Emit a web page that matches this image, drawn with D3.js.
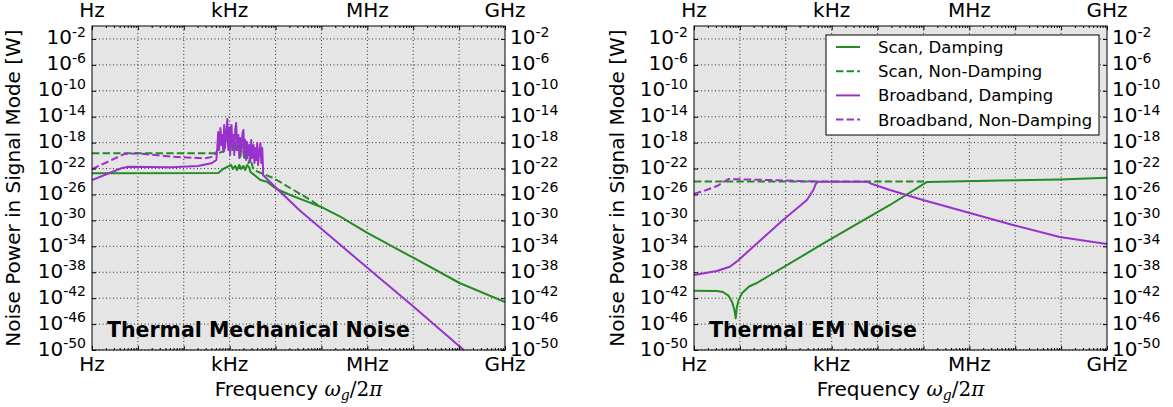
<!DOCTYPE html>
<html>
<head>
<meta charset="utf-8">
<script src="https://cdnjs.cloudflare.com/ajax/libs/d3/7.8.5/d3.min.js"></script>
<style>
body { margin: 0; background: #fff; }
text { font-family: "DejaVu Sans", sans-serif; fill: #000; }
</style>
</head>
<body>
<script>
// all points are [log10 frequency in Hz, log10 power in W]

// Thermal mechanical noise
var mechScanDamp = [[0,-22.73],[2.75,-22.69],[2.86,-22.07],[2.99,-21.6],[3.03,-21.45],[3.07,-22.07],[3.12,-21.6],[3.16,-22.22],[3.21,-21.45],[3.25,-22.07],[3.30,-21.6],[3.34,-22.22],[3.38,-21.45],[3.43,-21.9],[3.45,-22.48],
  [3.67,-23.77],[3.81,-24.03],[4.02,-25.15],[4.32,-26.08],[4.69,-27.11],[4.98,-27.89],[5.41,-29.43],[6.0,-31.94],[7.01,-35.8],[8.01,-39.66],[9.0,-42.59]];
var mechScanNonDamp = [[0,-19.64],[2.75,-19.64],[2.88,-19.29],[2.93,-16.36],[2.97,-18.36],[3.01,-15.59],[3.06,-19.14],[3.10,-17.28],[3.14,-19.44],[3.19,-17.90],[3.23,-20.22],[3.28,-18.36],[3.32,-20.68],[3.36,-19.14],[3.41,-21.14],[3.45,-20.37],
  [3.52,-22.22],[3.95,-23.46],[4.32,-25.0],[4.76,-26.85],[4.98,-27.89]];
var mechBroadDamp = [[0,-23.77],[0.64,-21.96],[0.79,-21.71],[1.73,-21.8],[2.31,-21.6],[2.6,-21.19],[2.71,-20.68],
  [2.73,-18.83],[2.75,-16.36],[2.77,-19.14],[2.80,-15.74],[2.82,-18.36],[2.84,-16.82],[2.86,-19.44],[2.88,-15.28],[2.90,-18.83],[2.93,-16.05],[2.95,-14.35],[2.97,-19.14],[2.99,-15.74],[3.01,-19.91],[3.04,-15.28],[3.06,-18.83],[3.08,-16.82],[3.10,-19.91],[3.12,-16.05],[3.14,-14.97],[3.17,-19.14],[3.19,-16.82],[3.21,-20.37],[3.23,-17.28],[3.25,-19.44],[3.28,-16.51],[3.30,-16.05],[3.32,-20.22],[3.34,-17.59],[3.36,-20.68],[3.38,-17.90],[3.41,-19.91],[3.43,-18.36],[3.45,-20.99],[3.47,-17.59],[3.49,-20.37],[3.52,-18.36],[3.54,-21.14],[3.56,-18.83],[3.58,-20.68],[3.60,-18.06],[3.62,-21.45],[3.65,-19.14],[3.67,-18.06],[3.69,-21.14],[3.71,-18.83],[3.727,-21.91],
  [3.727,-22.99],[4.105,-25.62],[4.541,-28.55],[4.978,-31.17],[5.852,-36.42],[7.009,-43.32],[8.253,-50.93]];
var mechBroadNonDamp = [[0,-22.07],[0.71,-19.75],[1.0,-19.64],[1.72,-20.17],[2.46,-20.42],[2.64,-20.17],[2.74,-19.14],[2.76,-18.4]];

// Thermal EM noise
var emScanDamp = [[0,-40.85],[0.5,-40.9],[0.63,-41.05],[0.75,-41.6],[0.83,-42.6],[0.88,-43.8],[0.91,-45.1],[0.93,-43.6],[0.97,-42.3],[1.05,-41.2],[1.2,-40.2],[1.37,-39.66],
  [2.81,-33.6],[4.27,-27.62],[5.08,-24.07],[6.67,-23.84],[7.97,-23.69],[9.0,-23.41]];
var emScanNonDamp = [[0,-24.0],[5.08,-24.0]];
var emBroadDamp = [[0,-38.43],[0.5,-37.8],[0.78,-37.15],[0.93,-36.37],[1.94,-29.94],[2.46,-26.85],[2.6,-25.3],[2.66,-24.3],[2.7,-24.03],
  [3.77,-24.03],[3.85,-24.3],[4.27,-25.31],[4.99,-26.85],[6.01,-28.86],[6.95,-30.71],[7.97,-32.56],[9.0,-33.64]];
var emBroadNonDamp = [[0,-25.9],[0.2,-25.5],[0.5,-24.7],[0.75,-23.62],[1.8,-23.8],[2.7,-24.03]];

var seriesNames = ["Scan, Damping", "Scan, Non-Damping", "Broadband, Damping", "Broadband, Non-Damping"];
var panelTitles = ["Thermal Mechanical Noise", "Thermal EM Noise"];
var freqTicks = [1, 1e3, 1e6, 1e9];
var freqTickLabels = ["Hz", "kHz", "MHz", "GHz"];
var powerTickExps = [-2, -6, -10, -14, -18, -22, -26, -30, -34, -38, -42, -46, -50];

var panelData = [
  [mechScanDamp, mechScanNonDamp, mechBroadDamp, mechBroadNonDamp],
  [emScanDamp, emScanNonDamp, emBroadDamp, emBroadNonDamp]
];

var green = "#228b22", purple = "#9932cc";
var styles = [
  {color: green, dash: null},
  {color: green, dash: "7.4,3.2"},
  {color: purple, dash: null},
  {color: purple, dash: "7.4,3.2"}
];

var width = 1173, height = 407;
var top_ = 26, plotW = 413, plotH = 324;
var panelLeft = [92, 694];

var svg = d3.select("body").append("svg")
  .attr("width", width)
  .attr("height", height);

var decades = d3.range(0, 10).map(function(k) { return Math.pow(10, k); });
var minor = [];
for (var k = 0; k < 9; k++) for (var m = 2; m < 10; m++) minor.push(m * Math.pow(10, k));

panelLeft.forEach(function(left, p) {
  var x = d3.scaleLog().domain([1, 1e9]).range([0, plotW]);
  var y = d3.scaleLog().domain([1e-50, 1]).range([plotH, 0]);

  var g = svg.append("g").attr("transform", "translate(" + left + "," + top_ + ")");

  g.append("rect").attr("width", plotW).attr("height", plotH).attr("fill", "#e5e5e5");

  // grid
  g.selectAll(".gx").data(decades.slice(1, 9)).enter().append("line")
    .attr("x1", function(d) { return x(d); }).attr("x2", function(d) { return x(d); })
    .attr("y1", 0).attr("y2", plotH)
    .attr("stroke", "#000").attr("stroke-width", 0.8).attr("stroke-dasharray", "1,2.5");
  g.selectAll(".gy").data(powerTickExps).enter().append("line")
    .attr("x1", 0).attr("x2", plotW)
    .attr("y1", function(d) { return y(Math.pow(10, d)); }).attr("y2", function(d) { return y(Math.pow(10, d)); })
    .attr("stroke", "#000").attr("stroke-width", 0.8).attr("stroke-dasharray", "1,2.5");

  // curves
  var clipId = "clip" + p;
  g.append("clipPath").attr("id", clipId).append("rect").attr("width", plotW).attr("height", plotH);
  var line = d3.line()
    .x(function(d) { return x(Math.pow(10, d[0])); })
    .y(function(d) { return y(Math.pow(10, d[1])); });
  panelData[p].forEach(function(s, i) {
    g.append("path")
      .datum(s)
      .attr("clip-path", "url(#" + clipId + ")")
      .attr("d", line)
      .attr("fill", "none")
      .attr("stroke", styles[i].color)
      .attr("stroke-width", 2)
      .attr("stroke-linejoin", "round")
      .attr("stroke-dasharray", styles[i].dash);
  });

  // ticks (inside, all four sides)
  function tickAxis(axis, vals, size) {
    return axis.tickValues(vals).tickSizeInner(size).tickSizeOuter(0).tickFormat("");
  }
  [[d3.axisBottom, "translate(0," + plotH + ")"], [d3.axisTop, null]].forEach(function(a) {
    g.append("g").attr("transform", a[1]).call(tickAxis(a[0](x), decades, -4)).select(".domain").remove();
    g.append("g").attr("transform", a[1]).call(tickAxis(a[0](x), minor, -2)).select(".domain").remove();
  });
  var yt = powerTickExps.map(function(e) { return Math.pow(10, e); });
  g.append("g").call(tickAxis(d3.axisLeft(y), yt, -4)).select(".domain").remove();
  g.append("g").attr("transform", "translate(" + plotW + ",0)").call(tickAxis(d3.axisRight(y), yt, -4)).select(".domain").remove();
  g.selectAll(".tick line").attr("stroke", "#000");

  g.append("rect").attr("width", plotW).attr("height", plotH)
    .attr("fill", "none").attr("stroke", "#000").attr("stroke-width", 1);

  // frequency labels, top and bottom
  freqTicks.forEach(function(f, i) {
    g.append("text").attr("x", x(f)).attr("y", -9).attr("text-anchor", "middle")
      .attr("font-size", 20).text(freqTickLabels[i]);
    g.append("text").attr("x", x(f)).attr("y", plotH + 21).attr("text-anchor", "middle")
      .attr("font-size", 20).text(freqTickLabels[i]);
  });

  // power labels, left and right
  powerTickExps.forEach(function(e) {
    var yy = y(Math.pow(10, e)) + 5.5;
    [[-6, "end"], [plotW + 5, "start"]].forEach(function(s) {
      var t = g.append("text").attr("x", s[0]).attr("y", yy).attr("text-anchor", s[1]).attr("font-size", 20);
      t.append("tspan").text("10");
      t.append("tspan").attr("font-size", 14).attr("dy", -7.5).text("-" + (-e));
    });
  });

  // axis titles
  g.append("text")
    .attr("transform", "translate(" + (p === 0 ? -72 : -70) + "," + (plotH / 2) + ")rotate(-90)")
    .attr("text-anchor", "middle").attr("font-size", 20)
    .text("Noise Power in Signal Mode [W]");

  var xl = g.append("text").attr("x", plotW / 2).attr("y", plotH + 46)
    .attr("text-anchor", "middle").attr("font-size", 20);
  xl.append("tspan").text("Frequency ");
  xl.append("tspan").attr("font-family", "DejaVu Serif").attr("font-style", "italic").text("ω");
  xl.append("tspan").attr("font-family", "DejaVu Serif").attr("font-style", "italic").attr("font-size", 14).attr("dy", 4).text("g");
  xl.append("tspan").attr("font-family", "DejaVu Serif").attr("dy", -4).text("/2");
  xl.append("tspan").attr("font-family", "DejaVu Serif").attr("font-style", "italic").text("π");

  g.append("text").attr("x", 15).attr("y", plotH - 13)
    .attr("font-size", 20.5).attr("font-weight", "bold")
    .text(panelTitles[p]);

  // legend in the EM panel
  if (p === 1) {
    var lg = g.append("g").attr("transform", "translate(" + (826 - left) + ",9)");
    lg.append("rect").attr("width", 273).attr("height", 100)
      .attr("fill", "#fff").attr("stroke", "#000").attr("stroke-width", 1);
    seriesNames.forEach(function(name, i) {
      var yy = 12 + i * 24.2;
      lg.append("line").attr("x1", 10).attr("x2", 34).attr("y1", yy).attr("y2", yy)
        .attr("stroke", styles[i].color).attr("stroke-width", 2)
        .attr("stroke-dasharray", styles[i].dash);
      lg.append("text").attr("x", 52).attr("y", yy + 6).attr("font-size", 16.5).text(name);
    });
  }
});
</script>
</body>
</html>
